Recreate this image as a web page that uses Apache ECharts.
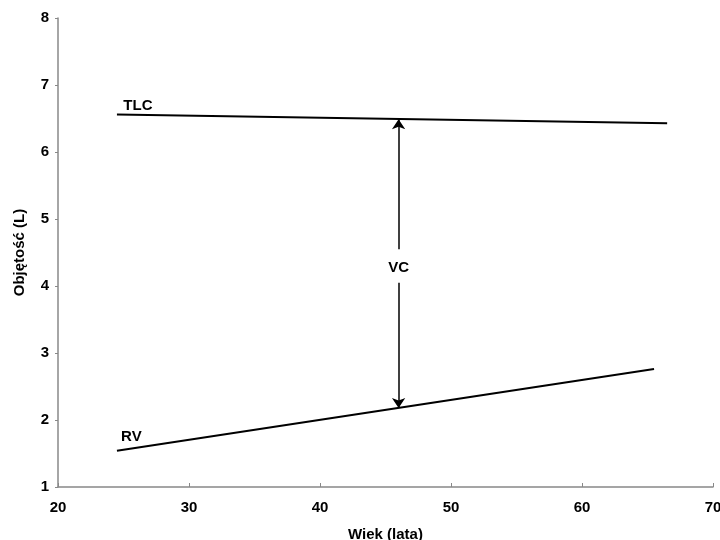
<!DOCTYPE html>
<html><head><meta charset="utf-8">
<script src="https://cdn.jsdelivr.net/npm/echarts@6/dist/echarts.min.js"></script>
<style>html,body{margin:0;padding:0;background:#fff}#c{width:720px;height:540px}</style>
</head><body><div id="c"></div>
<script>
var xTicks = [20, 30, 40, 50, 60, 70];
var yTicks = [1, 2, 3, 4, 5, 6, 7, 8];
var tlcLine = [[24.5, 6.56], [66.5, 6.43]];
var rvLine = [[24.5, 1.54], [65.5, 2.76]];
var vcArrowUp = [[46, 4.55], [46, 6.49]];
var vcArrowDown = [[46, 4.05], [46, 2.18]];
var labels = [[26.1, 6.68, 'TLC'], [25.6, 1.74, 'RV'], [46, 4.26, 'VC']];

var font = 'Liberation Sans, Arial, sans-serif';
var chart = echarts.init(document.getElementById('c'));
chart.setOption({
  animation: false,
  grid: {left: 58, right: 7, top: 18, bottom: 53, containLabel: false, outerBoundsMode: 'none'},
  xAxis: {
    type: 'value', min: xTicks[0], max: xTicks[xTicks.length - 1], interval: 10,
    name: 'Wiek (lata)', nameLocation: 'middle', nameGap: 40,
    nameTextStyle: {fontFamily: font, fontWeight: 'bold', fontSize: 15, color: '#000'},
    axisLine: {lineStyle: {color: '#888', width: 1.5}},
    axisTick: {inside: true, length: 4, lineStyle: {color: '#888'}},
    axisLabel: {fontFamily: font, fontWeight: 'bold', fontSize: 15, color: '#000', margin: 13},
    splitLine: {show: false}
  },
  yAxis: {
    type: 'value', min: yTicks[0], max: yTicks[yTicks.length - 1], interval: 1,
    name: 'Objętość (L)', nameLocation: 'middle', nameGap: 31, nameRotate: 90,
    nameTextStyle: {fontFamily: font, fontWeight: 'bold', fontSize: 15, color: '#000'},
    axisLine: {show: true, lineStyle: {color: '#888', width: 1.5}},
    axisTick: {show: true, length: 3, lineStyle: {color: '#888'}},
    axisLabel: {fontFamily: font, fontWeight: 'bold', fontSize: 15, color: '#000', margin: 9},
    splitLine: {show: false}
  },
  series: [
    {type: 'line', data: tlcLine, symbol: 'none', lineStyle: {color: '#000', width: 2}},
    {type: 'line', data: rvLine, symbol: 'none', lineStyle: {color: '#000', width: 2}},
    {type: 'lines', coordinateSystem: 'cartesian2d', symbol: ['none', 'arrow'], symbolSize: [5, 10],
     lineStyle: {color: '#000', width: 1.5, opacity: 1},
     data: [{coords: vcArrowUp}, {coords: vcArrowDown}]},
    {type: 'scatter', symbolSize: 1, itemStyle: {opacity: 0}, data: labels, silent: true,
     label: {show: true, position: 'top', distance: 0, verticalAlign: 'middle', align: 'center',
       formatter: function (p) { return p.data[2]; },
       fontFamily: font, fontWeight: 'bold', fontSize: 15, color: '#000', opacity: 1}}
  ]
});
</script></body></html>
